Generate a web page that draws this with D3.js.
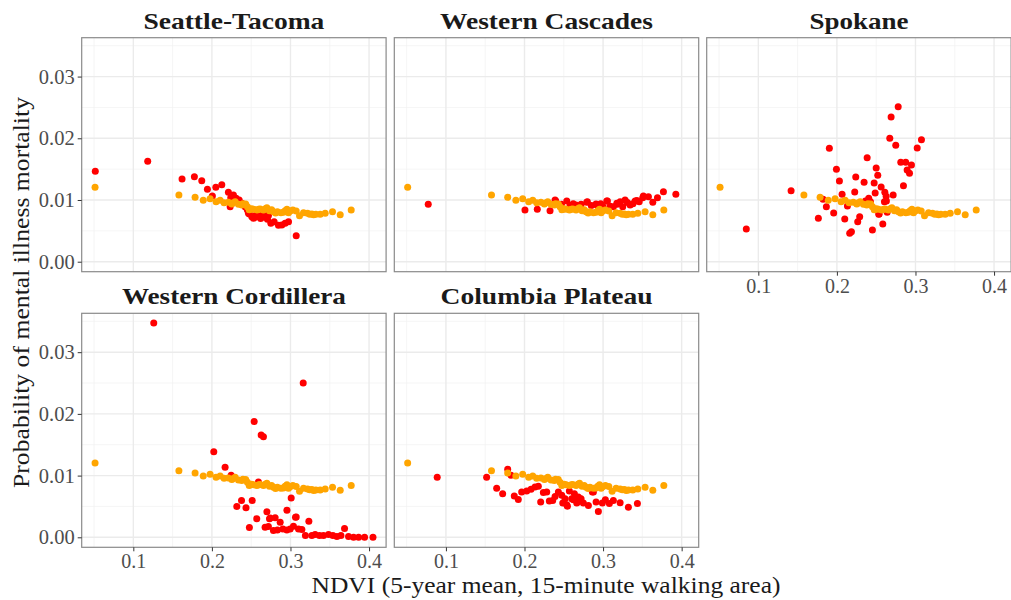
<!DOCTYPE html>
<html>
<head>
<meta charset="utf-8">
<script src="https://cdn.jsdelivr.net/npm/d3@7"></script>
<style>
  html, body { margin: 0; padding: 0; background: #fff; }
  svg { display: block; }
  text { font-family: "Liberation Serif", "DejaVu Serif", serif; }
</style>
</head>
<body>
<svg id="chart" width="1011" height="600"></svg>
<script>
// ---------------- data ----------------
const regions = ["Seattle-Tacoma", "Western Cascades", "Spokane", "Western Cordillera", "Columbia Plateau"];

const xTicks = [0.1, 0.2, 0.3, 0.4];
const yTicks = [0.00, 0.01, 0.02, 0.03];
const xTickLabels = ["0.1", "0.2", "0.3", "0.4"];
const yTickLabels = ["0.00", "0.01", "0.02", "0.03"];

// statewide reference curve (orange), same in each panel
const statewide = [
  [0.0513,0.01206],[0.158,0.0108],[0.1786,0.01044],[0.189,0.00995],[0.1977,0.0102],[0.2053,0.00973],
  [0.2105,0.00995],[0.2155,0.00957],[0.2209,0.00963],[0.2253,0.00936],[0.2265,0.0095],[0.2296,0.00973],
  [0.2338,0.0093],[0.238,0.0092],[0.2395,0.0094],[0.243,0.00936],[0.2452,0.00892],[0.2475,0.0084],
  [0.2487,0.0085],[0.2505,0.0086],[0.253,0.0085],[0.2572,0.00838],[0.2595,0.0085],[0.2614,0.00855],
  [0.2656,0.00838],[0.268,0.0086],[0.27,0.00876],[0.2733,0.00827],[0.276,0.0084],[0.2784,0.0081],
  [0.281,0.0079],[0.2834,0.0081],[0.2878,0.00795],[0.291,0.0080],[0.2932,0.00827],[0.2955,0.0085],
  [0.2975,0.00795],[0.2995,0.0082],[0.303,0.00838],[0.3073,0.00822],[0.3115,0.00746],[0.3166,0.00795],
  [0.3217,0.00784],[0.3245,0.0077],[0.3272,0.00773],[0.3295,0.0076],[0.3323,0.00768],[0.3378,0.00768],
  [0.3442,0.00784],[0.3535,0.0081],[0.3633,0.00762],[0.3773,0.00838]
];

const seattleTacoma = [
  [0.0516,0.01466],[0.1183,0.01628],[0.162,0.01341],[0.1777,0.01378],[0.1871,0.01313],[0.1943,0.01174],
  [0.205,0.01206],[0.2126,0.01249],[0.2006,0.01065],[0.221,0.01125],[0.224,0.01038],[0.2274,0.01082],
  [0.2308,0.01028],[0.2232,0.00892],[0.2338,0.00973],[0.2347,0.0100],[0.238,0.00947],[0.2423,0.00892],
  [0.2444,0.00866],[0.2452,0.00838],[0.2465,0.00785],[0.2478,0.00773],[0.2508,0.0073],[0.2529,0.00704],
  [0.255,0.0072],[0.2565,0.0076],[0.2592,0.00741],[0.262,0.0070],[0.2623,0.00741],[0.2635,0.0073],
  [0.2655,0.0078],[0.2677,0.0072],[0.2707,0.00687],[0.272,0.0075],[0.275,0.00622],[0.2792,0.00649],
  [0.2847,0.0059],[0.289,0.00595],[0.2932,0.00622],[0.2975,0.00649],[0.3073,0.00422]
];

const westernCascades = [
  [0.0775,0.0093],[0.2006,0.00838],[0.2163,0.0085],[0.2325,0.00827],[0.2389,0.0100],[0.2397,0.00984],
  [0.247,0.0093],[0.2538,0.00984],[0.258,0.0091],[0.262,0.0094],[0.2656,0.0092],[0.272,0.0093],
  [0.2792,0.00963],[0.28,0.00973],[0.285,0.0091],[0.291,0.00936],[0.292,0.0092],[0.297,0.0094],
  [0.300,0.0089],[0.3047,0.00984],[0.3055,0.00984],[0.309,0.0090],[0.3131,0.00892],[0.3175,0.00947],
  [0.318,0.0093],[0.3217,0.00973],[0.325,0.0089],[0.328,0.0100],[0.331,0.0096],[0.3344,0.0092],
  [0.338,0.0094],[0.3408,0.00984],[0.343,0.0099],[0.346,0.0097],[0.3505,0.01038],[0.3513,0.01065],
  [0.3577,0.01054],[0.3633,0.00963],[0.3692,0.01038],[0.3768,0.01135],[0.3926,0.01092]
];

const spokane = [
  [0.0847,0.0053],[0.1417,0.01151],[0.1904,0.01839],[0.1994,0.01498],[0.2032,0.01309],[0.2066,0.01093],
  [0.1824,0.01012],[0.1866,0.00892],[0.1764,0.00704],[0.1959,0.0079],[0.21,0.00692],[0.2134,0.00903],
  [0.2185,0.00487],[0.2163,0.0046],[0.2227,0.0113],[0.224,0.01373],[0.2265,0.00649],[0.229,0.0073],
  [0.2346,0.01287],[0.2363,0.00984],[0.2385,0.01686],[0.2405,0.01028],[0.2427,0.00973],[0.2452,0.00514],
  [0.2474,0.01276],[0.2487,0.01114],[0.25,0.0152],[0.252,0.014],[0.2533,0.0077],[0.2537,0.00773],
  [0.2563,0.01211],[0.2584,0.00611],[0.261,0.01125],[0.2605,0.00973],[0.2627,0.0106],[0.263,0.00984],
  [0.264,0.0080],[0.2716,0.01082],[0.2673,0.0200],[0.269,0.02346],[0.278,0.02513],[0.2749,0.01887],
  [0.2847,0.01232],[0.2813,0.01612],[0.2876,0.01612],[0.2894,0.01487],[0.2924,0.01433],[0.2949,0.01568],
  [0.3022,0.01844],[0.3076,0.01978]
];

const westernCordillera = [
  [0.126,0.03473],[0.3162,0.0250],[0.2538,0.01875],[0.2627,0.01658],[0.2656,0.0163],[0.2024,0.01386],
  [0.2168,0.01136],[0.2245,0.01006],[0.2592,0.00897],[0.3009,0.00636],[0.2377,0.00598],[0.2513,0.00598],
  [0.2317,0.0050],[0.2434,0.00479],[0.27,0.00414],[0.2955,0.0044],[0.2571,0.0030],[0.2733,0.0030],
  [0.2742,0.00311],[0.2805,0.00316],[0.2869,0.00245],[0.3064,0.00326],[0.3073,0.0033],[0.3234,0.00261],
  [0.2477,0.00158],[0.2677,0.00163],[0.2719,0.00174],[0.2783,0.00109],[0.2834,0.0012],[0.2903,0.00136],
  [0.2954,0.0012],[0.2996,0.00136],[0.3038,0.00179],[0.3102,0.00136],[0.3145,0.00125],[0.319,0.00028],
  [0.3272,0.00028],[0.3314,0.00044],[0.3369,0.00028],[0.342,0.00028],[0.3484,0.00044],[0.354,0.00028],
  [0.3591,0.00011],[0.3642,0.00028],[0.3688,0.00142],[0.3739,0.00011],[0.3803,0.0000],[0.3867,0.0000],
  [0.3943,0.0000],[0.405,0.0000]
];

const columbiaPlateau = [
  [0.0889,0.00973],[0.1518,0.00973],[0.1786,0.01104],[0.1828,0.01006],[0.1646,0.00794],[0.1722,0.00707],
  [0.187,0.00669],[0.1921,0.00614],[0.1964,0.00734],[0.2028,0.0075],[0.2083,0.00777],[0.2134,0.00815],
  [0.2176,0.00827],[0.2206,0.00571],[0.224,0.00728],[0.2283,0.00734],[0.2316,0.00587],[0.2359,0.00598],
  [0.2389,0.00663],[0.2431,0.00734],[0.2474,0.0068],[0.2487,0.00554],[0.2516,0.00626],[0.2538,0.00528],
  [0.2546,0.00505],[0.2571,0.0075],[0.2601,0.00626],[0.2622,0.0061],[0.2635,0.00707],[0.2665,0.00554],
  [0.2673,0.00571],[0.2685,0.00652],[0.272,0.00626],[0.2749,0.00554],[0.2813,0.00517],[0.2864,0.00734],
  [0.2877,0.00734],[0.2911,0.00571],[0.294,0.00419],[0.2991,0.00554],[0.3029,0.0061],[0.308,0.00546],
  [0.3131,0.00598],[0.3217,0.0056],[0.3322,0.00489],[0.3437,0.00546]
];

const regionPoints = [seattleTacoma, westernCascades, spokane, westernCordillera, columbiaPlateau];

const xTitle = "NDVI (5-year mean, 15-minute walking area)";
const yTitle = "Probability of mental illness mortality";

// ---------------- layout ----------------
const svg = d3.select("#chart");
const colLeft = [81.7, 394.3, 706.7];
const rowTop = [37.7, 313.3];
const pw = 304.4, ph = 234;
const stripTitleWidths = [181, 213, 99, 224, 212];

const x = d3.scaleLinear().domain([0.0343, 0.4217]).range([0, pw]);
const y = d3.scaleLinear().domain([-0.00162, 0.0363]).range([ph, 0]);

const xMinor = [0.05, 0.15, 0.25, 0.35];
const yMinor = [0.005, 0.015, 0.025, 0.035];

regions.forEach((name, i) => {
  const col = i % 3, row = Math.floor(i / 3);
  const g = svg.append("g").attr("transform", `translate(${colLeft[col]},${rowTop[row]})`);

  g.append("rect").attr("width", pw).attr("height", ph).attr("fill", "#fff");

  // minor grid
  g.selectAll(".xminor").data(xMinor).join("line")
    .attr("x1", d => x(d)).attr("x2", d => x(d)).attr("y1", 0).attr("y2", ph)
    .attr("stroke", "#f0f0f0").attr("stroke-width", 0.7);
  g.selectAll(".yminor").data(yMinor).join("line")
    .attr("y1", d => y(d)).attr("y2", d => y(d)).attr("x1", 0).attr("x2", pw)
    .attr("stroke", "#f0f0f0").attr("stroke-width", 0.7);
  // major grid
  g.selectAll(".xmajor").data(xTicks).join("line")
    .attr("x1", d => x(d)).attr("x2", d => x(d)).attr("y1", 0).attr("y2", ph)
    .attr("stroke", "#ebebeb").attr("stroke-width", 1.4);
  g.selectAll(".ymajor").data(yTicks).join("line")
    .attr("y1", d => y(d)).attr("y2", d => y(d)).attr("x1", 0).attr("x2", pw)
    .attr("stroke", "#ebebeb").attr("stroke-width", 1.4);

  const clipId = "clip" + i;
  g.append("clipPath").attr("id", clipId).append("rect").attr("width", pw).attr("height", ph);
  const pts = g.append("g").attr("clip-path", `url(#${clipId})`);

  pts.selectAll(".red").data(regionPoints[i]).join("circle")
    .attr("cx", d => x(d[0])).attr("cy", d => y(d[1])).attr("r", 3.5).attr("fill", "#FF0000");
  pts.selectAll(".orange").data(statewide).join("circle")
    .attr("cx", d => x(d[0])).attr("cy", d => y(d[1])).attr("r", 3.5).attr("fill", "#FFA500");

  g.append("rect").attr("width", pw).attr("height", ph).attr("fill", "none")
    .attr("stroke", "#8a8a8a").attr("stroke-width", 1.2);

  // strip title
  g.append("text").attr("x", pw / 2).attr("y", -9).attr("text-anchor", "middle")
    .attr("font-size", 24).attr("font-weight", "bold").attr("fill", "#1a1a1a")
    .attr("textLength", stripTitleWidths[i]).attr("lengthAdjust", "spacingAndGlyphs")
    .text(name);

  if (col === 0) {
    const ya = d3.axisLeft(y).tickValues(yTicks).tickFormat((d, k) => yTickLabels[k]).tickSize(4).tickPadding(3);
    const ag = g.append("g").call(ya);
    ag.select(".domain").remove();
    ag.selectAll(".tick line").attr("stroke", "#333").attr("stroke-width", 1);
    ag.selectAll(".tick text").attr("font-size", 20.5).attr("fill", "#4d4d4d")
      .attr("font-family", "Liberation Serif, serif");
  }
  if (row === 1 || col === 2) {
    const xa = d3.axisBottom(x).tickValues(xTicks).tickFormat((d, k) => xTickLabels[k]).tickSize(4).tickPadding(3);
    const ag = g.append("g").attr("transform", `translate(0,${ph})`).call(xa);
    ag.select(".domain").remove();
    ag.selectAll(".tick line").attr("stroke", "#333").attr("stroke-width", 1);
    ag.selectAll(".tick text").attr("font-size", 20).attr("fill", "#4d4d4d")
      .attr("font-family", "Liberation Serif, serif");
  }
});

// axis titles
svg.append("text").attr("x", 546).attr("y", 592.5).attr("text-anchor", "middle")
  .attr("font-size", 22.5).attr("fill", "#1a1a1a")
  .attr("textLength", 469).attr("lengthAdjust", "spacingAndGlyphs")
  .text(xTitle);

svg.append("text").attr("transform", "translate(28.5,292.5) rotate(-90)").attr("text-anchor", "middle")
  .attr("font-size", 23).attr("fill", "#1a1a1a")
  .attr("textLength", 391).attr("lengthAdjust", "spacingAndGlyphs")
  .text(yTitle);
</script>
</body>
</html>
